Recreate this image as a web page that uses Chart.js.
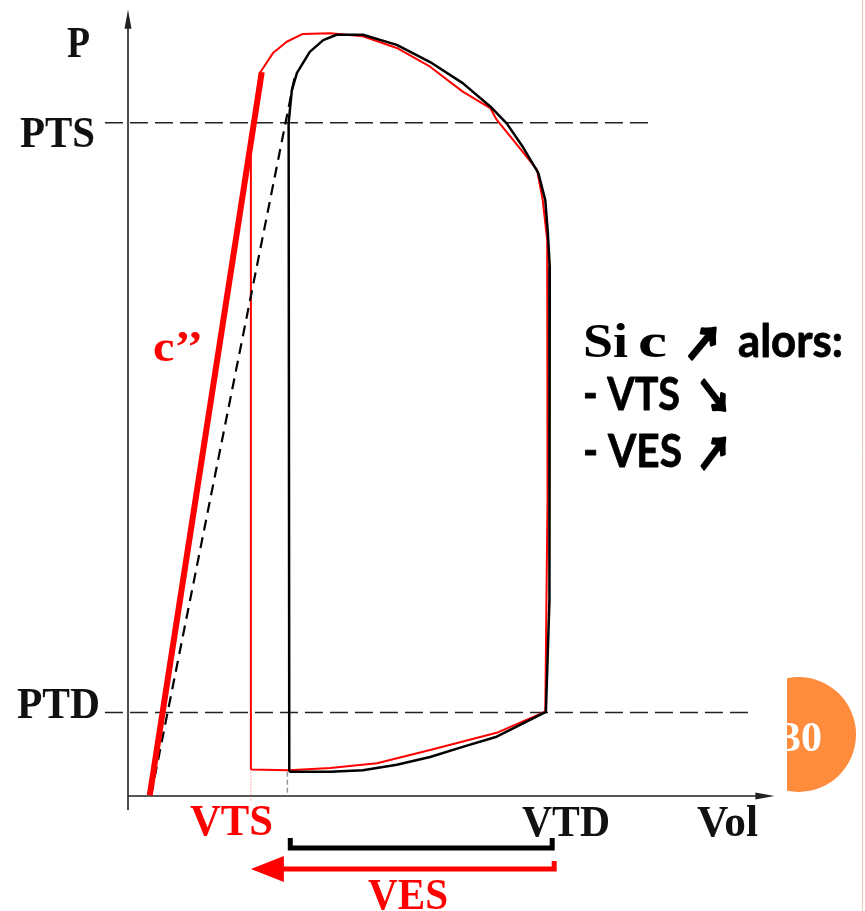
<!DOCTYPE html>
<html>
<head>
<meta charset="utf-8">
<script src="https://cdn.jsdelivr.net/npm/chart.js@4"></script>
<style>
  html, body { margin: 0; padding: 0; background: #fff; }
  canvas { display: block; }
</style>
</head>
<body>
<canvas id="pvChart" width="865" height="911"></canvas>
<script>
// levels (volume / pressure in arbitrary units 0..100)
const vtsVol = 19.2;
const vesVol = 25.2;
const vtdVol = 65.5;
const ptsP = 86.3;
const ptdP = 10.7;

// reference loop (black)
const blackLoopVol = [25.2, 25.1, 25.6, 26.4, 28.4, 30.5, 32.6, 36.7, 42.0, 47.2, 52.3, 56.6, 59.2, 61.7, 64.1, 65.2, 65.6, 65.9, 65.9, 65.8, 65.3, 57.6, 52.3, 47.2, 42.0, 36.7, 31.6, 25.2];
const blackLoopP   = [3.1, 86.3, 90.5, 92.7, 95.4, 96.9, 97.6, 97.6, 96.3, 94.1, 91.4, 88.4, 86.2, 83.2, 79.9, 76.4, 72.2, 67.8, 50.8, 25.1, 10.8, 7.6, 6.3, 5.0, 4.0, 3.3, 3.1, 3.1];

// loop with increased contractility (red)
const redLoopVol = [19.2, 19.2, 19.8, 20.6, 22.7, 24.8, 27.3, 31.6, 36.7, 42.0, 47.2, 52.3, 56.6, 57.6, 60.2, 63.9, 64.8, 65.5, 65.6, 65.5, 65.2, 57.6, 47.2, 38.9, 31.6, 25.2, 19.2];
const redLoopP   = [3.4, 82.8, 88.0, 92.7, 95.3, 96.7, 97.7, 97.8, 97.4, 95.9, 93.5, 90.3, 88.2, 86.7, 84.1, 80.3, 76.4, 71.3, 63.6, 38.0, 10.8, 8.1, 5.9, 4.2, 3.6, 3.3, 3.4];

// end-systolic elastance lines
const cRedVol = [3.4, 20.9];
const cRedP = [0.1, 92.8];
const cBaseVol = [3.6, 26.1];
const cBaseP = [0.1, 92.4];

// dashed pressure guides
const guideStartVol = -3.6;
const ptsEndVol = 81.6;
const ptdEndVol = 96.9;

const zip = (xs, ys) => xs.map((x, i) => ({ x, y: ys[i] }));

const RED = "#ff0000";
const INK = "#111111";

function fitText(ctx, text, left, baseline, width, font, color, weight) {
  ctx.save();
  ctx.font = font;
  ctx.fillStyle = color;
  ctx.strokeStyle = color;
  ctx.textBaseline = "alphabetic";
  const w = ctx.measureText(text).width;
  ctx.translate(left, baseline);
  ctx.scale(width / w, 1);
  ctx.fillText(text, 0, 0);
  if (weight) {
    ctx.lineWidth = weight;
    ctx.lineJoin = "round";
    ctx.strokeText(text, 0, 0);
  }
  ctx.restore();
}

const serif = "bold 45px 'Liberation Serif', serif";

const decorPlugin = {
  id: "decor",
  beforeDraw(chart) {
    const ctx = chart.ctx;
    ctx.save();
    ctx.fillStyle = "#fff";
    ctx.fillRect(0, 0, chart.width, chart.height);
    ctx.restore();
  },
  beforeDatasetsDraw(chart) {
    const { ctx, scales } = chart;
    const sx = scales.x, sy = scales.y;
    const x0 = sx.getPixelForValue(0);
    const y0 = sy.getPixelForValue(0);
    const yTop = sy.getPixelForValue(100.8);
    const xEnd = sx.getPixelForValue(101);
    ctx.save();
    ctx.strokeStyle = "#222";
    ctx.fillStyle = "#222";
    ctx.lineWidth = 1.6;
    // axes
    ctx.beginPath();
    ctx.moveTo(x0, sy.getPixelForValue(-1.8));
    ctx.lineTo(x0, yTop + 8);
    ctx.moveTo(x0, y0);
    ctx.lineTo(xEnd - 10, y0);
    ctx.stroke();
    // arrow heads
    ctx.beginPath();
    ctx.moveTo(x0, yTop);
    ctx.lineTo(x0 - 3.5, yTop + 19);
    ctx.lineTo(x0 + 3.5, yTop + 19);
    ctx.closePath();
    ctx.fill();
    ctx.beginPath();
    ctx.moveTo(xEnd, y0);
    ctx.lineTo(xEnd - 19, y0 - 3.5);
    ctx.lineTo(xEnd - 19, y0 + 3.5);
    ctx.closePath();
    ctx.fill();
    ctx.restore();
  },
  afterDraw(chart) {
    const { ctx, scales } = chart;
    const sx = scales.x, sy = scales.y;
    const y0 = sy.getPixelForValue(0);

    // axis labels
    fitText(ctx, "P", 67, 57, 23, serif, INK);
    fitText(ctx, "PTS", 20, sy.getPixelForValue(ptsP) + 24, 75, serif, INK);
    fitText(ctx, "PTD", 17, sy.getPixelForValue(ptdP) + 5, 83, serif, INK);
    fitText(ctx, "c\u2019\u2019", 153, 361, 50, serif, RED);
    fitText(ctx, "VTS", 190, y0 + 39, 83, serif, RED);
    fitText(ctx, "VTD", 522, y0 + 40, 88, serif, INK);
    fitText(ctx, "Vol", 697, y0 + 40, 61, serif, INK);
    fitText(ctx, "VES", 368, y0 + 113, 80, serif, RED);

    // stroke volume brackets
    const xVes = sx.getPixelForValue(vesVol);
    const xVts = sx.getPixelForValue(vtsVol);
    const xVtd = sx.getPixelForValue(vtdVol) + 5;
    ctx.save();
    ctx.lineWidth = 5;
    ctx.strokeStyle = "#000";
    ctx.beginPath();
    ctx.moveTo(xVes + 1, y0 + 42);
    ctx.lineTo(xVes + 1, y0 + 52);
    ctx.lineTo(xVtd, y0 + 52);
    ctx.lineTo(xVtd, y0 + 42);
    ctx.stroke();
    ctx.strokeStyle = RED;
    ctx.fillStyle = RED;
    ctx.beginPath();
    ctx.moveTo(xVts + 30, y0 + 73);
    ctx.lineTo(xVtd + 2, y0 + 73);
    ctx.lineTo(xVtd + 2, y0 + 65);
    ctx.stroke();
    ctx.beginPath();
    ctx.moveTo(xVts, y0 + 73);
    ctx.lineTo(xVts + 33, y0 + 60);
    ctx.lineTo(xVts + 33, y0 + 86);
    ctx.closePath();
    ctx.fill();
    ctx.restore();

    // side note
    const cmSerif = "bold 48px 'Liberation Serif', serif";
    const sans = "bold 46px Lato, 'Open Sans', sans-serif";
    const arrows = "bold 44px 'Noto Sans CJK SC', 'DejaVu Sans', sans-serif";
    fitText(ctx, "Si", 583, 357, 45, cmSerif, "#000");
    fitText(ctx, "c", 638, 357, 29, cmSerif, "#000");
    fitText(ctx, "\u2197", 684, 360, 38, arrows, "#000", 3);
    fitText(ctx, "alors:", 738, 357, 105, sans, "#000", 0.8);
    fitText(ctx, "- VTS", 583, 410, 97, sans, "#000", 0.8);
    fitText(ctx, "\u2198", 697, 413, 34, arrows, "#000", 3);
    fitText(ctx, "- VES", 583, 467, 99, sans, "#000", 0.8);
    fitText(ctx, "\u2197", 697, 470, 34, arrows, "#000", 3);

    // slide number badge
    ctx.save();
    ctx.beginPath();
    ctx.rect(787, 0, 80, chart.height);
    ctx.clip();
    ctx.fillStyle = "#ff8b3d";
    ctx.beginPath();
    ctx.arc(798.5, 734.5, 57.5, 0, Math.PI * 2);
    ctx.fill();
    ctx.font = "bold 42px 'Liberation Serif', serif";
    ctx.fillStyle = "#fff";
    ctx.textAlign = "center";
    ctx.fillText("30", 801, 751);
    ctx.restore();

    ctx.save();
    ctx.strokeStyle = "#f6c9b3";
    ctx.lineWidth = 1;
    ctx.beginPath();
    ctx.moveTo(862.5, 0);
    ctx.lineTo(862.5, chart.height);
    ctx.stroke();
    ctx.restore();
  }
};

const line = (data, extra) => Object.assign({
  data,
  showLine: true,
  pointRadius: 0,
  tension: 0,
  fill: false,
  clip: false,
  borderJoinStyle: "round"
}, extra);

new Chart(document.getElementById("pvChart"), {
  type: "scatter",
  data: {
    datasets: [
      line([{ x: guideStartVol, y: ptsP }, { x: ptsEndVol, y: ptsP }],
        { borderColor: "#222", borderWidth: 1.5, borderDash: [18, 7], order: 9 }),
      line([{ x: guideStartVol, y: ptdP }, { x: ptdEndVol, y: ptdP }],
        { borderColor: "#222", borderWidth: 1.5, borderDash: [18, 7], order: 9 }),
      line([{ x: vtsVol, y: redLoopP[0] }, { x: vtsVol, y: -0.6 }],
        { borderColor: "#ff6666", borderWidth: 1, borderDash: [1, 2], order: 8 }),
      line([{ x: vesVol - 0.3, y: blackLoopP[0] }, { x: vesVol - 0.3, y: 0 }],
        { borderColor: "#999", borderWidth: 1.5, borderDash: [5, 3], order: 8 }),
      line(zip(redLoopVol, redLoopP),
        { borderColor: RED, borderWidth: 2, order: 5 }),
      line(zip(blackLoopVol, blackLoopP),
        { borderColor: "#000", borderWidth: 2.5, order: 4 }),
      line(zip(cBaseVol, cBaseP),
        { borderColor: "#000", borderWidth: 2.2, borderDash: [11, 7], order: 3 }),
      line(zip(cRedVol, cRedP),
        { borderColor: RED, borderWidth: 6, borderCapStyle: "butt", order: 2 })
    ]
  },
  options: {
    responsive: false,
    animation: false,
    devicePixelRatio: 1,
    layout: { padding: { left: 128, right: 97, top: 16, bottom: 115 } },
    plugins: { legend: { display: false }, tooltip: { enabled: false } },
    scales: {
      x: { type: "linear", min: 0, max: 100, display: false },
      y: { type: "linear", min: 0, max: 100, display: false }
    }
  },
  plugins: [decorPlugin]
});
</script>
</body>
</html>
